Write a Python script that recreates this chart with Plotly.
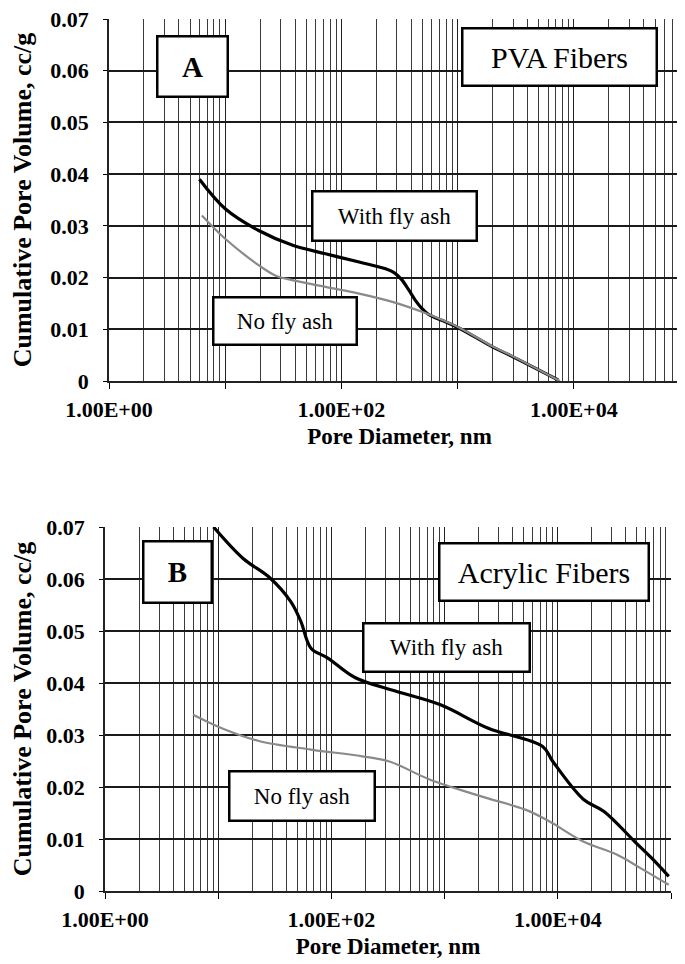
"""
Cumulative pore volume vs pore diameter, PVA (A) and acrylic (B) fibers
"""

import plotly.graph_objs as go

# panel A - PVA fibers
pva_fa_d = [6.0, 10, 19.4, 37.6, 73, 142, 240, 282, 330, 380, 430, 490, 560, 650, 741, 1035, 1995, 2800, 7330]
pva_fa_v = [0.0390, 0.0333, 0.0291, 0.0263, 0.0246, 0.0230, 0.0217, 0.0210, 0.0196, 0.0176, 0.0157, 0.0141, 0.0129, 0.0122, 0.0117, 0.0102, 0.0066, 0.0050, 0.0002]
pva_nofa_d = [6.3, 10, 19.4, 27, 37.6, 73, 142, 275, 533, 741, 1035, 1995, 2800, 7590]
pva_nofa_v = [0.0320, 0.0275, 0.0224, 0.0204, 0.0195, 0.0182, 0.0169, 0.0153, 0.0131, 0.0118, 0.0103, 0.0067, 0.0051, 0.0]

# panel B - acrylic fibers
acr_fa_d = [9.1, 16.5, 28.7, 43.6, 53.6, 66, 93, 163, 373, 920, 2430, 7350, 9040, 16900, 25600, 47800, 67600, 95500]
acr_fa_v = [0.0700, 0.0640, 0.0602, 0.0557, 0.0519, 0.0467, 0.0448, 0.0410, 0.0384, 0.0358, 0.0313, 0.0278, 0.0249, 0.0176, 0.0153, 0.0095, 0.0063, 0.0028]
acr_nofa_d = [6.0, 11.6, 23.3, 66, 187, 325, 746, 2110, 5240, 8390, 16800, 33100, 53700, 95500]
acr_nofa_v = [0.0339, 0.0310, 0.0288, 0.0272, 0.0259, 0.0249, 0.0214, 0.0182, 0.0156, 0.0134, 0.0095, 0.0070, 0.0044, 0.0012]

x_ticks = [1, 10, 100, 1000, 10000, 100000]
x_ticktext = ["1.00E+00", "", "1.00E+02", "", "1.00E+04", ""]

SERIF = "Times New Roman, Liberation Serif, Tinos, DejaVu Serif, serif"
W, H = 685, 964


def px_dom(a, b, total, flip=False):
    if flip:
        return [1 - b / total, 1 - a / total]
    return [a / total, b / total]


minor_vals = [m * 10 ** k for k in range(5) for m in range(2, 10)]


def x_axis(dom, anchor):
    return dict(type="log", range=[0, 5], domain=dom, anchor=anchor,
                tickmode="array", tickvals=x_ticks, ticktext=x_ticktext,
                ticks="outside", ticklen=6, tickcolor="black",
                ticklabelstandoff=2,
                tickfont=dict(family=SERIF, size=22, color="black", weight="bold"),
                showgrid=True, gridcolor="#222222", gridwidth=1.4,
                minor=dict(tickvals=minor_vals, showgrid=True, gridcolor="#3a3a3a", gridwidth=1.1, ticks=""),
                showline=True, linecolor="#222222", linewidth=1.5,
                zeroline=False, automargin=False,
                title=dict(text="Pore Diameter, nm", standoff=7,
                           font=dict(family=SERIF, size=23, color="black", weight="bold")))


def y_axis(dom, anchor):
    return dict(range=[0, 0.07], domain=dom, anchor=anchor, dtick=0.01,
                ticks="outside", ticklen=4, tickcolor="black",
                ticklabelstandoff=10, ticklabeloverflow="allow",
                tickfont=dict(family=SERIF, size=22, color="black", weight="bold"),
                showgrid=True, gridcolor="#1a1a1a", gridwidth=1.5,
                showline=True, linecolor="#222222", linewidth=1.5,
                zeroline=False, automargin=False,
                title=dict(text="Cumulative Pore Volume, cc/g", standoff=15,
                           font=dict(family=SERIF, size=26, color="black", weight="bold")))


fig = go.Figure()
fig.add_trace(go.Scatter(x=pva_fa_d, y=pva_fa_v, mode="lines", line=dict(color="black", width=3.2, shape="spline"),
                         xaxis="x", yaxis="y", name="With fly ash"))
fig.add_trace(go.Scatter(x=pva_nofa_d, y=pva_nofa_v, mode="lines", line=dict(color="#8a8a8a", width=2.2, shape="spline"),
                         xaxis="x", yaxis="y", name="No fly ash"))
fig.add_trace(go.Scatter(x=acr_fa_d, y=acr_fa_v, mode="lines", line=dict(color="black", width=3.2, shape="spline"),
                         xaxis="x2", yaxis="y2", name="With fly ash"))
fig.add_trace(go.Scatter(x=acr_nofa_d, y=acr_nofa_v, mode="lines", line=dict(color="#8a8a8a", width=2.2, shape="spline"),
                         xaxis="x2", yaxis="y2", name="No fly ash"))


def box(text, x, y, w, h, xref, yref, size, bold=False):
    if bold:
        text = "<b>" + text + "</b>"
    return dict(text=text, x=x, y=y, xref=xref, yref=yref, showarrow=False,
                width=w, height=h, bgcolor="white", bordercolor="black", borderwidth=2.5, borderpad=0,
                font=dict(family=SERIF, size=size, color="black"))


annotations = [
    box("A", 0.717, 0.0608, 68, 58, "x", "y", 29, bold=True),
    box("PVA Fibers", 3.879, 0.0626, 192, 55, "x", "y", 30),
    box("With fly ash", 2.454, 0.0320, 162, 47, "x", "y", 23),
    box("No fly ash", 1.516, 0.0116, 141, 45, "x", "y", 23),
    box("B", 0.642, 0.0613, 66, 59, "x2", "y2", 29, bold=True),
    box("Acrylic Fibers", 3.881, 0.0614, 207, 55, "x2", "y2", 30),
    box("With fly ash", 3.015, 0.0469, 164, 46, "x2", "y2", 23),
    box("No fly ash", 1.736, 0.0182, 143, 47, "x2", "y2", 23),
]

fig.update_layout(
    width=W, height=H,
    margin=dict(l=0, r=0, t=0, b=0),
    paper_bgcolor="white", plot_bgcolor="white",
    showlegend=False,
    font=dict(family=SERIF, color="black"),
    xaxis=x_axis(px_dom(101, 682, W), "y"),
    yaxis=y_axis(px_dom(11, 373, H, flip=True), "x"),
    xaxis2=x_axis(px_dom(97, 663, W), "y2"),
    yaxis2=y_axis(px_dom(519, 883, H, flip=True), "x2"),
    annotations=annotations,
)

fig.write_html("out.html")
